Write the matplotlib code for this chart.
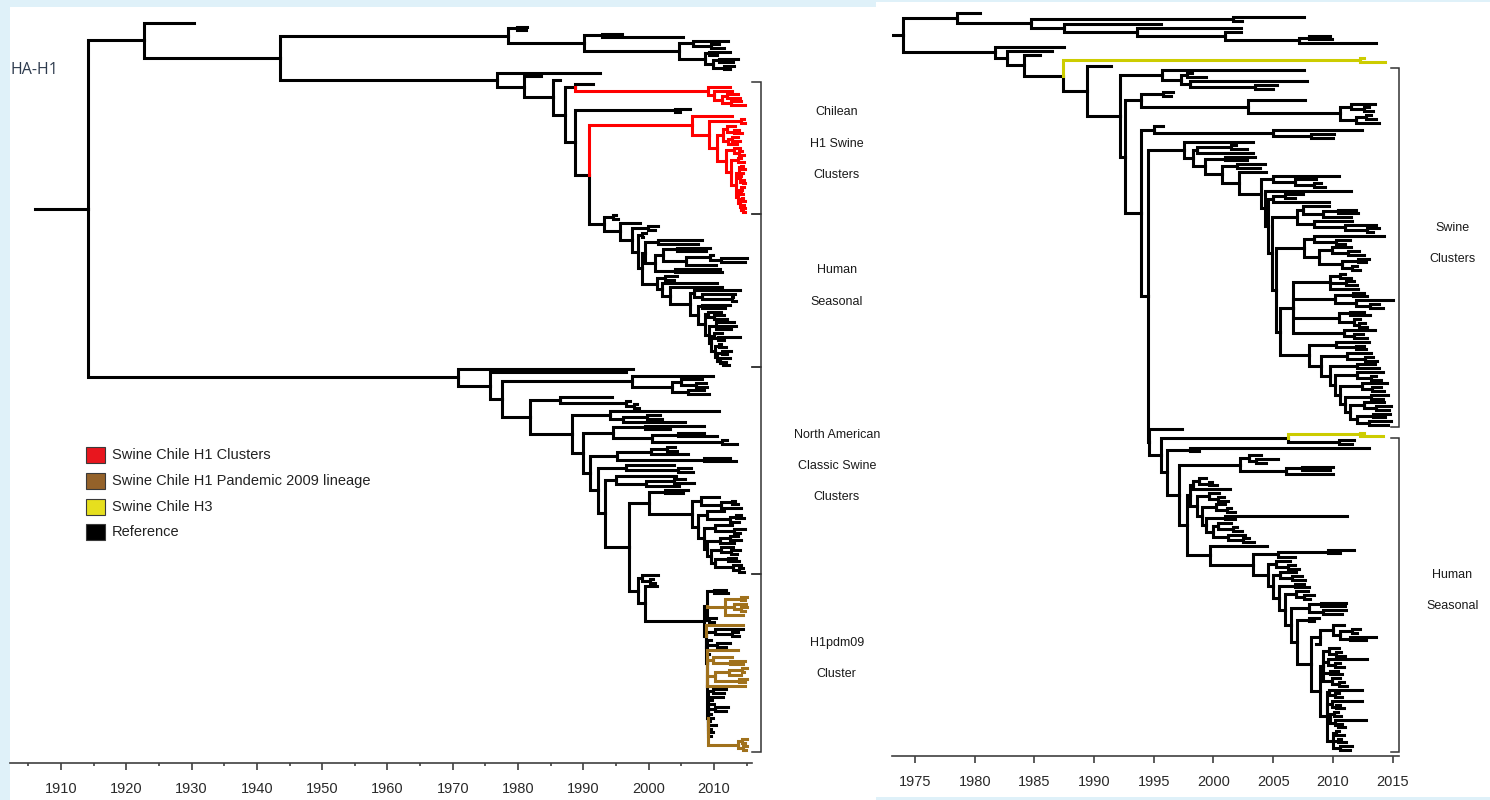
import re
import matplotlib
matplotlib.use("Agg")
import matplotlib.pyplot as plt
from matplotlib.collections import LineCollection
from matplotlib.patches import Rectangle

# ---------------------------------------------------------------------------
# Time-scaled trees, written as nested clades: "(child,child,...)date".
# Every number is a calendar date (decimal year) of a node or tip.
# ":r" red, ":b" brown, ":y" yellow colour a branch and its descendants;
# "#name" marks a clade used for the bracket annotations.
# ---------------------------------------------------------------------------

# ---- HA-H1 ---------------------------------------------------------------
h1_root_start = 1906.0

h1_classical = ("((1981.4,1981.2)1979.8,((1995.9,2005.3)1992.8,((2012.2,(2010.8,2011.5)2009.5)2006.8,"
                "((2012.5,2010.5)2009.2,((2013.7,2012.9)2010.8,(2013.0,2012.4)2011.6)2009.9)2008.6)2004.7)1990.1)1978.5")

h1_chile_a = "(2012.4,(2012.8,((2013.6,2014.0)2012.0,(2014.2,2014.7)2012.6)2011.2)2010.0)2009.1:r"

h1_chile_b4 = "((2013.2,(2013.9,2014.3)2013.0)2012.0,((2013.6,2014.0)2012.8,2013.5)2012.2)2011.4"
h1_chile_b7 = "((2014.5,2014.7)2014.2,((2014.4,2014.2)2014.1,(2014.6,2014.8)2014.4)2014.0)2013.8"
h1_chile_b8 = ("((2014.6,(2014.3,2014.5)2014.2)2014.1,((2014.5,2014.7)2014.3,(2014.6,(2014.7,2014.8)2014.5)"
               "2014.2)2014.0)2013.7")
h1_chile_b6 = f"((2014.2,2014.6)2013.7,({h1_chile_b7},{h1_chile_b8})2013.3)2012.6"
h1_chile_b5 = f"((2014.0,(2014.3,2014.6)2013.9)2013.0,{h1_chile_b6})2011.8"
h1_chile_b = f"(2012.7,((2014.6,2014.8)2014.2,({h1_chile_b4},{h1_chile_b5})2010.4)2009.3)2006.6:r#chile_end"

h1_hum_a = ("((2008.1,2007.6)2001.5,(((2009.4,2008.8)2004.3,((2009.9,(2015.0,2014.8)2011.0)2009.4,"
            "2010.3)2005.7)2002.2,(2010.9,2011.3)2004.0)2001.0)1999.4")
h1_hum_x7 = "((2012.6,2012.0)2011.3,(2012.5,(2011.9,2012.3)2011.4)2010.9)2010.5"
h1_hum_x6 = f"((2011.0,2011.8)2010.7,{h1_hum_x7})2010.1"
h1_hum_x5 = f"((2011.2,(2014.0,2011.5)2010.6)2010.0,{h1_hum_x6})2009.6"
h1_hum_x4 = f"((2013.0,2013.3,2012.6)2010.3,{h1_hum_x5})2009.3"
h1_hum_x3 = f"((2011.0,(2011.6,2012.0)2010.0)2009.1,{h1_hum_x4})2008.6"
h1_hum_x2 = f"((2012.4,2011.7)2008.1,{h1_hum_x3})2007.6"
h1_hum_x1 = "(2014.0,(2013.2,(2012.9,2013.4)2012.8)2008.1)2007.0"
h1_hum_b = f"((2004.3,2003.8)2002.5,(2010.4,(2011.2,({h1_hum_x1},{h1_hum_x2})2006.3)2003.3)2002.0)2001.2"
h1_human = (f"((1995.0,1995.3)1994.5,(1998.6,((2001.4,2001.0)1999.9,((1999.6,1999.2)1998.9,"
            f"({h1_hum_a},{h1_hum_b})1998.9)1998.3)1997.4)1995.6)1993.2#human")

h1_n6 = f"({h1_chile_b},{h1_human})1990.9"
h1_n5 = f"((2006.3,2004.8)2004.0,{h1_n6})1988.7"
h1_n4 = f"((1991.5,{h1_chile_a})1988.7#chile_top,{h1_n5})1987.2"
h1_swine = f"(1992.5,(1983.5,(1986.4,{h1_n4})1985.4)1980.9)1976.7"
h1_top = f"(1930.4,({h1_classical},{h1_swine})1943.5)1922.7"

h1_nl6 = "((2013.3,2013.8)2012.2,(2014.1,(2014.4,2014.6)2013.8)2012.9)2010.2"
h1_nl5 = f"((2012.9,(2014.0,2013.5)2012.6)2011.0,{h1_nl6})2009.6"
h1_nl4 = f"(((2013.6,2014.2)2012.4,2013.1)2010.9,{h1_nl5})2009.0"
h1_nl3 = f"((2012.8,(2014.7,2014.0)2013.0)2010.2,{h1_nl4})2008.4"
h1_nl2 = f"((2011.5,((2014.2,2014.6)2013.3,2013.9)2012.4)2009.0,{h1_nl3})2007.6"
h1_nl = f"((2010.7,((2013.2,2013.7)2012.8,2014.2)2011.0)2008.0,{h1_nl2})2006.6"
h1_na_low = f"((2006.0,2005.2)2002.5,{h1_nl})2000.0#na_end"

h1_pdm_br1 = "((2015.0,2014.8)2014.2,(2014.9,(2015.0,2014.7)2014.2)2013.0,2014.5)2011.7:b"
h1_pdm_br2 = "(2012.7,(2014.8,2014.4)2012.5)2009.8:b"
h1_pdm_br3 = "(((2015.0,2014.6)2014.3,2014.1)2012.3,(2015.0,2014.8)2013.9)2010.2:b"
h1_pdm_br4 = "((2015.0,2014.7)2014.3,(2015.0,2014.9)2014.5)2013.7:b"
h1_pdm_a = f"((2011.9,2012.1)2010.0,{h1_pdm_br1},(2010.3,2010.0)2009.3)2008.9"
h1_pdm_b5 = (f"((2011.9,2011.5)2009.9,2011.4,2009.7,2010.0,(2012.2,2011.8)2010.1,2009.5,2009.9,2009.4,"
             f"2010.3,2009.6,2009.8,2009.5,{h1_pdm_br4})2009.1")
h1_pdm_b4 = f"(2009.3,{h1_pdm_br2},{h1_pdm_br3},2014.7:b,{h1_pdm_b5})2009.0"
h1_pdm_b3 = f"(2009.6,(2012.5,2011.9)2010.4,2013.7:b,{h1_pdm_b4})2008.9"
h1_pdm_b2 = f"((2014.4,(2013.6,2013.9)2012.8)2010.2,{h1_pdm_b3})2008.8"
h1_pdm_b = f"(2014.5:b,{h1_pdm_b2})2008.7"
h1_pdm = f"({h1_pdm_a},{h1_pdm_b})2008.4"
h1_pdm_group = f"((2001.5,(2000.6,2000.9)2000.2)1999.0,(2001.3,{h1_pdm})1999.4)1998.4#pdm"

h1_na_p = f"({h1_na_low},{h1_pdm_group})1997.0"
h1_na_l5 = f"((2004.2,((2005.5,2007.0)2003.8,2004.6)1999.6)1995.0,{h1_na_p})1993.3"
h1_na_l4 = f"((2003.8,(2006.5,2006.8)2004.5)1996.5,{h1_na_l5})1992.3"
h1_na_l3 = f"((((2004.0,2004.4)2002.8,2006.0)2000.4,(2012.4,2013.4)2008.5)1995.2,{h1_na_l4})1991.0"
h1_na_l2 = f"(((2008.4,2003.2)1999.5,((2008.5,2010.4)2004.5,(2012.0,2013.5)2011.2)2000.5)1994.5,{h1_na_l3})1990.0"
h1_na_l1 = f"((2010.7,((2001.8,2002.0)1999.7,2005.6)1996.0)1994.0,{h1_na_l2})1988.2"
h1_na_c = f"((1994.4,(1997.2,(1998.2,1998.5)1997.8)1996.6)1986.4,{h1_na_l1})1981.8"
h1_na_bc = "(2009.9,((2008.2,(2008.8,2009.0)2007.2)2005.0,(2008.5,2009.2)2006.0)2003.5)1997.5"
h1_na_b = f"({h1_na_bc},{h1_na_c})1977.5"
h1_bottom = f"(1997.6,(1996.6,{h1_na_b})1975.7)1970.8#na_top"

h1_tree = f"({h1_top},{h1_bottom})1914.1"

# ---- H3 ------------------------------------------------------------------
h3_root_start = 1973.1

h3_top = ("(1980.4,((2007.6,2002.4)2001.6,(1995.6,(2002.3,(2002.3,((2009.8,2009.9)2008.0,2013.6)2007.2)"
          "2001.0)1993.6)1987.5)1984.7)1978.5")
h3_chile_a = "(2012.6,2014.4)2012.3:y"
h3_m = "(2007.6,((1998.2,1999.4)1997.8,(2007.8,(2005.3,2005.0)2003.5)1998.0)1997.3)1995.7#swine_top"
h3_oc = "((2013.5,(2013.0,2013.4)2012.6)2011.5,((2013.2,2013.6)2012.8,2013.9)2011.9)2010.6"
h3_o = f"((1996.6,1996.4)1995.8,(2007.7,{h3_oc})2002.9)1993.9"
h3_r = "(1995.8,(2012.4,(2010.1,2010.0)2008.2)2005.0)1995.0"

h3_sa = "((2009.7,((2011.9,2012.1)2010.4,2011.5)2009.2)2007.5,(2011.6,(2013.6,(2013.9,2013.4)2012.9)2011.0)2008.4)2007.0"
h3_sb = ("((2014.3,(2011.4,2011.0)2010.3)2008.4,((2011.5,(2012.2,2012.6)2011.3)2009.9,((2013.0,2012.8)2012.1,"
         "(2012.0,2012.3)2011.6)2010.8)2008.8)2007.6")
h3_sc = ("(((2011.0,2011.5)2010.6,(2011.8,2012.0)2011.1,2012.1)2009.8,((2012.6,2012.9)2011.7,(2015.0,(2013.9,2014.2)"
         "2013.1)2011.9)2010.2,((2012.6,2013.1)2011.4,(2012.3,(2012.7,2012.9)2012.2)2011.8)2010.5,"
         "(2013.5,(2012.5,2012.9)2011.8)2010.9)2006.7")
h3_sd7 = "((2014.8,2014.4)2013.4,(2014.9,2014.6)2013.0)2012.0"
h3_sd6 = f"((2014.3,(2014.9,2014.7)2013.6)2012.6,{h3_sd7})2011.4"
h3_sd5 = f"((2014.6,2014.2)2013.2,{h3_sd6})2011.0"
h3_sd4 = f"((2014.5,(2014.0,2014.3)2013.3)2012.4,{h3_sd5})2010.6"
h3_sd3 = f"((2014.2,(2013.6,2014.0)2013.2)2012.0,{h3_sd4})2010.2"
h3_sd2 = f"((2013.5,2013.9)2012.0,{h3_sd3})2009.8"
h3_sd1 = f"((2013.2,(2013.4,2013.7)2012.7)2011.2,{h3_sd2})2009.0"
h3_sd = f"((2013.0,(2012.6,2012.8)2011.9)2010.3,{h3_sd1})2008.0"
h3_u10 = f"({h3_sc},{h3_sd})2005.6"
h3_u9 = f"({h3_sb},{h3_u10})2005.2"
h3_u8 = f"({h3_sa},{h3_u9})2004.9"
h3_u7 = f"(((2007.5,2006.8)2006.0,2009.7)2005.0,{h3_u8})2004.6"
h3_u6 = f"(2011.5,{h3_u7})2004.3"
h3_u5 = f"((2010.5,(2008.6,(2009.0,2009.3)2008.4)2006.8)2005.0,{h3_u6})2004.0"
h3_u4 = f"(2004.4,{h3_u5})2002.1"
h3_u3 = f"((2004.3,2003.9)2002.0,{h3_u4})2000.7"
h3_u2 = f"((2003.5,2002.8)2001.0,{h3_u3})1999.3"
h3_u1 = f"(((2001.9,2002.8)2001.5,2003.3)1998.6,{h3_u2})1998.3"
h3_swine = f"(2003.3,{h3_u1})1997.5#swine_end"

h3_wa = "((2012.6,2014.2)2012.3:y,(2011.8,2011.6)2010.5#human_top)2006.2"
h3_wd = "((2004.0,(2005.4,2004.4)2003.6)2003.0,((2010.0,2009.8)2007.4,2010.0)2006.1)2002.2"
h3_wf4 = "((2001.5,(2002.0,2002.4)2001.6)2000.4,(2002.6,(2003.0,2003.4)2002.5)2001.2)2000.0"
h3_wf3 = f"((2011.2,2001.8)2001.0,{h3_wf4})1999.4"
h3_wf2 = f"((2001.0,(2001.5,2001.8)2001.1)2000.2,{h3_wf3})1999.0"
h3_wf1 = f"((2000.5,(2000.9,2001.2)2000.4)1999.6,{h3_wf2})1998.6"
h3_wf = f"(((1999.4,(1999.9,2000.3)1999.6)1998.8,2001.4)1998.3,{h3_wf1})1998.0"
h3_ws = ("((2012.4,(2010.5,2010.8)2010.2)2009.7,(2012.4,(2010.6,2010.9)2010.3)2009.9,((2010.4,2010.7)2010.1,"
         "(2012.8,(2010.8,2011.0)2010.4)2010.2)2009.8,((2010.5,2010.9)2010.3,(2010.7,2011.1)2010.4,"
         "(2011.6,2011.4)2010.6)2010.0)2009.5")
h3_wr = ("((2010.5,(2010.7,2011.0)2010.3)2009.7,(2012.9,(2010.6,2010.9)2010.2)2009.6,(2010.4,2010.8)2009.8,"
         "(2010.6,(2010.9,2011.2)2010.5)2009.9)2009.2")
h3_wq = f"({h3_wr},{h3_ws})2008.9"
h3_wp = "((2010.9,((2012.3,2012.0)2011.6,(2013.6,2012.8)2011.4)2010.6)2010.0,2008.6)2008.9"
h3_wo = f"({h3_wp},{h3_wq})2008.2"
h3_wn = f"((2008.8,2008.4)2008.0,{h3_wo})2007.0"
h3_wm = f"(((2011.1,2011.0)2009.0,(2011.1,2010.8)2009.2)2008.0,{h3_wn})2006.5"
h3_wl = f"((2007.9,(2008.4,2008.1)2007.6)2006.9,{h3_wm})2006.0"
h3_wk = f"((2007.6,2008.0)2006.8,{h3_wl})2005.5"
h3_wj = f"((2006.9,(2007.4,2007.7)2006.6)2005.6,{h3_wk})2005.0"
h3_wi = f"((2006.4,(2006.8,2007.2)2006.2)2005.2,{h3_wj})2004.6"
h3_wh = f"(((2011.8,2010.6)2009.6,2006.8)2005.4,{h3_wi})2003.3"
h3_wg = f"(2004.5,{h3_wh})1999.7"
h3_we = f"({h3_wf},{h3_wg})1997.8"
h3_wc = f"({h3_wd},{h3_we})1997.1"
h3_wb = f"((2013.0,1998.8)1998.0,{h3_wc})1996.1"
h3_human = f"(1997.4,({h3_wa},{h3_wb})1995.6)1994.6#human_end"

h3_t = f"({h3_swine},{h3_human})1994.5"
h3_q = f"({h3_r},{h3_t})1993.9"
h3_n = f"({h3_o},{h3_q})1992.6"
h3_l = f"({h3_m},{h3_n})1992.2"
h3_k = f"(1991.4,{h3_l})1989.4"
h3_j = f"({h3_chile_a},{h3_k})1987.4"
h3_lower = f"(1987.5,(1986.5,(1985.5,{h3_j})1984.1)1982.7)1981.7"
h3_tree = f"({h3_top},{h3_lower})1974.0"

# ---- annotation text ------------------------------------------------------
h1_brackets = [("chile_top", "chile_end", ["Chilean", "H1 Swine", "Clusters"]),
               ("human", "human", ["Human", "Seasonal"]),
               ("na_top", "na_end", ["North American", "Classic Swine", "Clusters"]),
               ("pdm", "pdm", ["H1pdm09", "Cluster"])]
h3_brackets = [("swine_top", "swine_end", ["Swine", "Clusters"]),
               ("human_top", "human_end", ["Human", "Seasonal"])]

legend_labels = ["Swine Chile H1 Clusters", "Swine Chile H1 Pandemic 2009 lineage",
                 "Swine Chile H3", "Reference"]
legend_colors = ["#E8161E", "#94622A", "#E6DF1E", "#000000"]

h1_major_ticks = list(range(1910, 2011, 10))
h1_minor_ticks = list(range(1905, 2016, 10))
h3_major_ticks = list(range(1975, 2016, 5))

BRANCH_COLORS = {"r": "#FF0000", "b": "#A0711C", "y": "#CCCC00"}
NODE_RE = re.compile(r"([0-9.]+)(?::([a-z]))?(?:#(\w+))?")


def parse_tree(text):
    pos = 0

    def node():
        nonlocal pos
        kids = []
        if text[pos] == "(":
            pos += 1
            kids.append(node())
            while text[pos] == ",":
                pos += 1
                kids.append(node())
            pos += 1  # closing bracket
        m = NODE_RE.match(text, pos)
        pos = m.end()
        return {"t": float(m.group(1)), "c": m.group(2), "tag": m.group(3), "kids": kids}

    return node()


def layout(root):
    tips = []
    tags = {}

    def walk(n, color):
        n["color"] = BRANCH_COLORS[n["c"]] if n["c"] else color
        if n["kids"]:
            for k in n["kids"]:
                walk(k, n["color"])
            n["y"] = 0.5 * (n["kids"][0]["y"] + n["kids"][-1]["y"])
            n["lo"] = n["kids"][0]["lo"]
            n["hi"] = n["kids"][-1]["hi"]
        else:
            n["y"] = float(len(tips))
            n["lo"] = n["hi"] = n["y"]
            tips.append(n)
        if n["tag"]:
            tags[n["tag"]] = n

    walk(root, "#000000")
    return len(tips), tags


def draw_tree(ax, root, start):
    groups = {}

    def walk(n):
        for k in n["kids"]:
            path = [(n["t"], n["y"]), (n["t"], k["y"]), (k["t"], k["y"])]
            groups.setdefault(k["color"], []).append(path)
            walk(k)

    walk(root)
    groups.setdefault(root["color"], []).append([(start, root["y"]), (root["t"], root["y"])])
    order = sorted(groups, key=lambda c: c != "#000000")
    for z, col in enumerate(order):
        lc = LineCollection(groups[col], colors=col, linewidths=2.2,
                            capstyle="projecting", joinstyle="miter", zorder=3 + z)
        ax.add_collection(lc)


W, H = 1490, 800
fig = plt.figure(figsize=(W / 100, H / 100), dpi=100)
fig.patch.set_facecolor("#DFF1F9")


def fig_box(x0, y0, x1, y1):
    return [x0 / W, 1 - y1 / H, (x1 - x0) / W, (y1 - y0) / H]


# white panels
fig.add_artist(Rectangle((10 / W, 0), (876 - 10) / W, (800 - 7) / H, transform=fig.transFigure,
                         facecolor="white", edgecolor="none", zorder=0))
fig.add_artist(Rectangle((876 / W, 3 / H), (W - 876) / W, (797 - 2) / H, transform=fig.transFigure,
                         facecolor="white", edgecolor="none", zorder=0))

FONT = ["Liberation Sans", "DejaVu Sans"]


def setup_panel(box, xlim, tree_text, start, tip_top, tip_bottom, ax_top, ax_bottom):
    ax = fig.add_axes(box)
    ax.set_facecolor("none")
    root = parse_tree(tree_text)
    n, tags = layout(root)
    draw_tree(ax, root, start)
    ppu = (tip_bottom - tip_top) / (n - 1)
    ax.set_xlim(*xlim)
    ax.set_ylim((n - 1) + (ax_bottom - tip_bottom) / ppu, -(tip_top - ax_top) / ppu)
    for side in ("left", "right", "top"):
        ax.spines[side].set_visible(False)
    ax.spines["bottom"].set_color("#404040")
    ax.spines["bottom"].set_linewidth(1.2)
    ax.set_yticks([])
    return ax, tags


def brackets(ax, tags, specs, x_tick, x_bar, x_text, shift_pt):
    for top_tag, end_tag, lines in specs:
        y0 = tags[top_tag]["lo"] - 0.5
        y1 = tags[end_tag]["hi"] + 0.5
        ax.plot([x_tick, x_bar, x_bar, x_tick], [y0, y0, y1, y1], color="#333333",
                lw=1.1, clip_on=False, solid_joinstyle="miter")
        yc = 0.5 * (y0 + y1)
        k = len(lines)
        for i, txt in enumerate(lines):
            off = ((k - 1) / 2 - i) * 22.5 + shift_pt
            ax.annotate(txt, xy=(x_text, yc), xytext=(0, off), textcoords="offset points",
                        ha="center", va="center", fontsize=9, family=FONT,
                        color="#1a1a1a", annotation_clip=False)


# ---- left panel: HA-H1 ----
axL, tagsL = setup_panel(fig_box(10, 10, 752, 763), (1902.19, 2015.82), h1_tree, h1_root_start,
                         23, 750, 10, 763)
axL.set_xticks(h1_major_ticks)
axL.set_xticks(h1_minor_ticks, minor=True)
axL.tick_params(axis="x", which="major", length=5, width=1.2, color="#404040", pad=9,
                labelsize=10.5, labelcolor="#2a2a2a")
axL.tick_params(axis="x", which="minor", length=2.5, width=1.2, color="#404040")
for lab in axL.get_xticklabels():
    lab.set_family(FONT)
brackets(axL, tagsL, h1_brackets, 2015.85, 2017.2, 2028.8, 3)

# ---- right panel: H3 ----
axR, tagsR = setup_panel(fig_box(892, 5, 1399, 756), (1973.07, 2015.54), h3_tree, h3_root_start,
                         13, 750, 5, 756)
axR.set_xticks(h3_major_ticks)
axR.tick_params(axis="x", which="major", length=5, width=1.2, color="#404040", pad=9,
                labelsize=10.5, labelcolor="#2a2a2a")
for lab in axR.get_xticklabels():
    lab.set_family(FONT)
brackets(axR, tagsR, h3_brackets, 2014.85, 2015.54, 2020.0, 3)

# ---- title and legend ----
fig.text(11 / W, 1 - 70 / H, "HA-H1", fontsize=11.5, family=["Open Sans", "DejaVu Sans"],
         color="#2E3B4E", va="center", ha="left")

for i, (lab, col) in enumerate(zip(legend_labels, legend_colors)):
    yc = [455, 481, 507, 532][i]
    fig.add_artist(Rectangle((86 / W, 1 - (yc + 8) / H), 19 / W, 16 / H, transform=fig.transFigure,
                             facecolor=col, edgecolor="#3a3a3a", linewidth=0.8, zorder=5))
    fig.text(112 / W, 1 - yc / H, lab, fontsize=10.5, family=FONT, color="#222222",
             va="center", ha="left")

fig.savefig("out.png", dpi=100, facecolor=fig.get_facecolor())
